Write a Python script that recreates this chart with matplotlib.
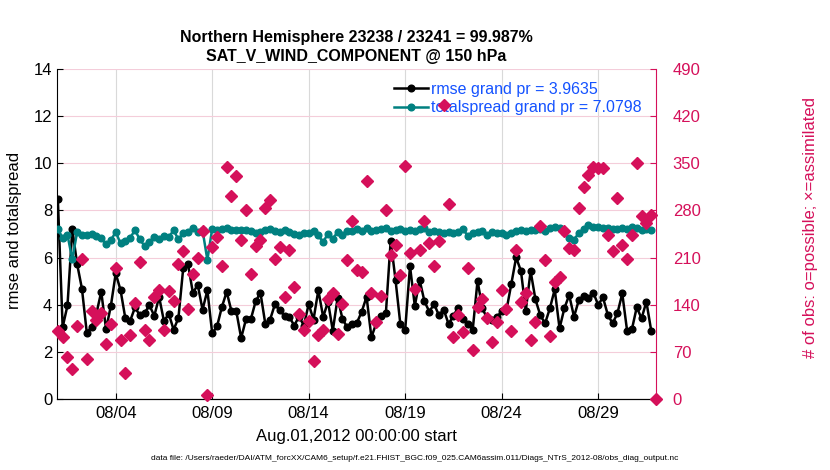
import numpy as np
import pandas as pd
import matplotlib
matplotlib.use('Agg')
import matplotlib.pyplot as plt
import matplotlib.dates as mdates

plt.rcParams['font.family'] = ['Liberation Sans', 'DejaVu Sans']

# 6-hourly analysis times, Aug 1 2012 00Z .. Sep 1 2012 00Z
times = pd.date_range('2012-08-01 00:00', periods=125, freq='6h')

# rmse (last time has no obs)
rmse = [8.50, 3.05, 3.97, 7.20, 5.73, 4.68, 2.82, 3.05, 3.63, 4.55,
        2.96, 3.96, 5.33, 4.62, 3.42, 3.32, 3.89, 3.55, 3.66, 3.97,
        3.53, 4.33, 3.30, 3.62, 2.94, 3.44, 5.57, 5.71, 4.50, 4.85,
        3.79, 4.61, 2.79, 3.08, 3.90, 4.55, 3.72, 3.72, 2.59, 3.38,
        3.38, 4.14, 4.51, 3.20, 3.37, 4.02, 3.76, 3.53, 3.48, 3.12,
        3.50, 3.12, 4.03, 3.37, 4.62, 3.48, 4.13, 2.90, 4.30, 3.40,
        3.04, 3.20, 3.24, 3.71, 4.34, 2.62, 3.21, 3.54, 3.64, 6.72,
        5.05, 3.18, 2.93, 5.64, 3.95, 5.05, 4.14, 3.71, 4.03, 3.55,
        3.79, 3.18, 3.54, 3.88, 3.38, 3.20, 2.93, 5.02, 3.85, 3.42,
        3.35, 3.47, 3.72, 3.78, 4.88, 6.01, 5.43, 3.75, 5.43, 4.23,
        3.56, 3.21, 3.85, 4.65, 3.00, 3.85, 4.41, 3.49, 4.20, 4.37,
        4.29, 4.51, 4.00, 4.31, 3.58, 3.21, 3.64, 4.48, 2.90, 2.96,
        3.89, 3.42, 4.13, 2.90, np.nan]

totalspread = [7.20, 6.85, 6.96, 5.93, 7.09, 6.96, 6.96, 7.00, 6.92, 6.82,
               6.56, 6.74, 7.09, 6.60, 6.70, 6.85, 7.16, 6.77, 6.49, 6.67,
               6.88, 6.80, 6.90, 6.87, 7.16, 6.77, 7.06, 7.10, 7.27, 7.10,
               7.16, 5.90, 7.23, 7.19, 7.23, 7.26, 7.19, 7.19, 7.16, 7.16,
               7.12, 7.04, 7.09, 7.16, 7.20, 7.13, 7.09, 7.19, 7.09, 7.02,
               6.94, 7.04, 7.04, 7.13, 6.94, 6.66, 7.02, 6.80, 7.09, 6.98,
               7.14, 7.14, 7.20, 7.14, 7.24, 7.14, 7.17, 7.20, 7.24, 7.14,
               7.17, 7.20, 7.14, 7.17, 7.14, 7.20, 7.24, 7.10, 7.14, 7.10,
               7.06, 7.10, 7.06, 7.10, 7.20, 6.92, 7.03, 7.10, 7.14, 6.96,
               7.10, 7.03, 7.03, 6.96, 7.06, 7.14, 7.17, 7.14, 7.17, 7.17,
               7.20, 7.14, 7.24, 7.28, 7.24, 7.10, 6.82, 6.75, 7.06, 7.20,
               7.38, 7.28, 7.28, 7.24, 7.24, 7.20, 7.20, 7.24, 7.20, 7.28,
               7.24, 7.17, 7.20, 7.17, np.nan]

# number of obs possible / assimilated
nposs = [101, 92, 62, 45, 109, 208, 60, 131, 118, 128,
         81, 112, 194, 88, 39, 95, 143, 204, 103, 88,
         152, 162, 103, 160, 145, 201, 220, 133, 185, 210,
         249, 6, 226, 240, 198, 344, 301, 331, 236, 281,
         186, 228, 236, 283, 296, 208, 226, 152, 221, 166,
         127, 103, 116, 57, 95, 102, 148, 158, 96, 141,
         207, 264, 191, 188, 324, 158, 115, 153, 281, 214,
         229, 184, 346, 217, 164, 221, 264, 232, 197, 235,
         437, 290, 92, 125, 99, 195, 73, 136, 148, 121,
         85, 115, 162, 133, 101, 221, 144, 157, 88, 115,
         257, 206, 94, 174, 181, 250, 224, 221, 283, 315,
         333, 345, 343, 343, 244, 220, 298, 229, 208, 244,
         351, 272, 262, 273, 0]
nused = nposs

rmse_label = 'rmse grand pr = 3.9635'
spread_label = 'totalspread grand pr = 7.0798'
title = 'Northern Hemisphere 23238 / 23241 = 99.987%\nSAT_V_WIND_COMPONENT @ 150 hPa'
datafile = ('data file: /Users/raeder/DAI/ATM_forcXX/CAM6_setup/'
            'f.e21.FHIST_BGC.f09_025.CAM6assim.011/Diags_NTrS_2012-08/obs_diag_output.nc')

RED = '#d5105a'
TEAL = '#008080'
PINK = '#f4cdda'

fig = plt.figure(figsize=(8.3, 4.7), dpi=100)
ax = fig.add_axes([0.0687, 0.151, 0.7217, 0.702])

ax.plot(times, rmse, '-o', color='black', lw=1.8, ms=4.8, label=rmse_label, zorder=3)
ax.plot(times, totalspread, '-o', color=TEAL, lw=1.8, ms=4.8, label=spread_label, zorder=3)

ax.set_ylim(0, 14)
ax.set_yticks(np.arange(0, 15, 2))
ax.set_xlim(pd.Timestamp('2012-08-01 00:00') - pd.Timedelta(hours=1),
            pd.Timestamp('2012-09-01 00:00'))
ax.xaxis.set_major_locator(mdates.DayLocator(bymonthday=[4, 9, 14, 19, 24, 29]))
ax.xaxis.set_major_formatter(mdates.DateFormatter('%m/%d'))
ax.grid(axis='x', color='#d9d9d9', lw=0.8)
ax.grid(axis='y', color=PINK, lw=0.8)
ax.set_axisbelow(True)
ax.tick_params(direction='in', labelsize=12, length=4)
ax.tick_params(axis='x', pad=5)
ax.spines['top'].set_visible(False)
ax.spines['right'].set_visible(False)
ax.set_ylabel('rmse and totalspread', fontsize=12)
ax.yaxis.set_label_coords(-0.058, 0.51)
ax.set_xlabel('Aug.01,2012 00:00:00 start', fontsize=12, labelpad=6)
ax.set_title(title, fontsize=11.5, fontweight='bold', pad=6, linespacing=1.35)

leg = ax.legend(loc='upper left', bbox_to_anchor=(0.552, 0.98), frameon=False,
                fontsize=11.5, handlelength=2.1, handletextpad=0.2,
                labelspacing=0.2, borderaxespad=0)
for t in leg.get_texts():
    t.set_color('#1452ff')

ax2 = ax.twinx()
ax2.plot(times, nposs, 'D', color=RED, ms=5.8, mec=RED, clip_on=False, zorder=4)
ax2.plot(times, nused, 'P', color=RED, ms=5.8, mec=RED, clip_on=False, zorder=4)
ax2.set_ylim(0, 490)
ax2.set_yticks(np.arange(0, 491, 70))
ax2.tick_params(direction='in', labelsize=12, length=4, pad=12, colors=RED)
ax2.spines['top'].set_visible(False)
ax2.spines['left'].set_visible(False)
ax2.spines['right'].set_color(RED)
ax2.set_ylabel('# of obs: o=possible; \u00d7=assimilated', color=RED, fontsize=12)
ax2.yaxis.set_label_coords(1.245, 0.52)

fig.text(0.5, 0.025, datafile, ha='center', va='center', fontsize=6)

fig.savefig('out.png', dpi=100)
